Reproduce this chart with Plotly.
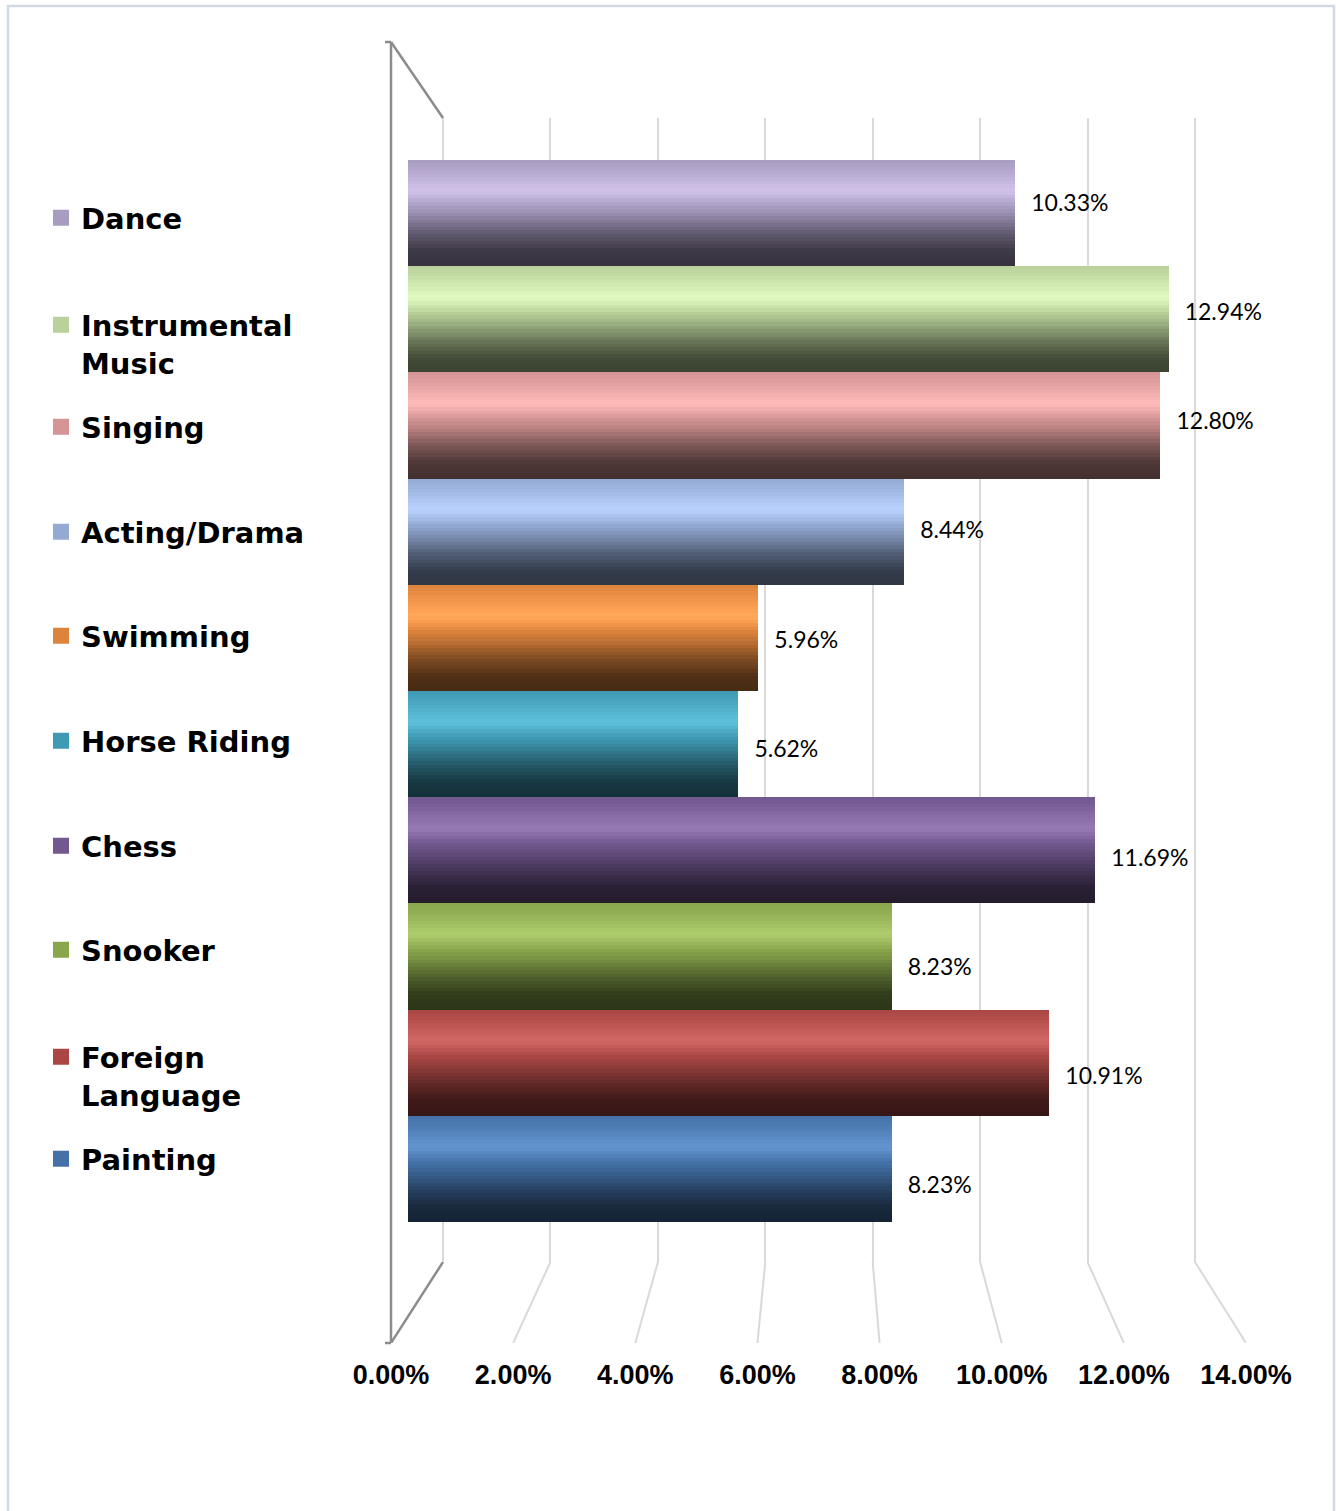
import plotly.graph_objects as go

# ---------------- data ----------------
categories = ["Dance", "Instrumental Music", "Singing", "Acting/Drama", "Swimming",
              "Horse Riding", "Chess", "Snooker", "Foreign Language", "Painting"]
legend_labels = ["Dance", "Instrumental<br>Music", "Singing", "Acting/Drama", "Swimming",
                 "Horse Riding", "Chess", "Snooker", "Foreign<br>Language", "Painting"]
values = [10.33, 12.94, 12.80, 8.44, 5.96, 5.62, 11.69, 8.23, 10.91, 8.23]
value_labels = ["10.33%", "12.94%", "12.80%", "8.44%", "5.96%",
                "5.62%", "11.69%", "8.23%", "10.91%", "8.23%"]
tick_values = [0, 2, 4, 6, 8, 10, 12, 14]
tick_labels = ["0.00%", "2.00%", "4.00%", "6.00%", "8.00%", "10.00%", "12.00%", "14.00%"]
colors = ["#a99cc1", "#b9d19b", "#d49594", "#94aad4", "#dd843c",
          "#3f9ab4", "#72588f", "#89a64c", "#aa4744", "#4472a8"]

# ---------------- layout constants (pixels) ----------------
W, H = 1336, 1511
def fx(p): return p / W
def fy(p): return 1 - p / H

BACK_L, BACK_R = 443, 1195       # back wall 0% / 14%
FRONT_L, FRONT_R = 391, 1246     # floor front edge 0% / 14%
BAR_L, BAR_R = 408, 1231         # bar plane 0% / 14%
TOP, BOTTOM, FLOOR = 118, 1262, 1343
HORIZON, LABEL_ZOOM, LABEL_SHIFT = 639, 1.027, 4  # labels sit on an enlarged front plane
XMAX = 14
LEG_X = 41
LEGEND_Y = [218, 344, 427, 532, 636, 741, 846, 950, 1076, 1159]

# cylinder shading profile (t from top=0 to bottom=1, brightness factor)
PROFILE = [(0.0, 1.0), (0.08, 1.04), (0.30, 1.2), (0.50, 0.92), (0.70, 0.58),
           (0.86, 0.37), (1.0, 0.32)]
NSTRIP = 30


def factor(t):
    for (t0, f0), (t1, f1) in zip(PROFILE[:-1], PROFILE[1:]):
        if t0 <= t <= t1:
            return f0 + (f1 - f0) * (t - t0) / (t1 - t0)
    return PROFILE[-1][1]


def shade(hexc, f):
    r, g, b = (int(hexc[i:i + 2], 16) for i in (1, 3, 5))
    if f > 1:
        k = (f - 1) * 1.6
        r, g, b = (min(255, c * f) for c in (r, g, b))
        r, g, b = (min(255, c + (255 - c) * k * 0.35) for c in (r, g, b))
    else:
        r, g, b = (c * f for c in (r, g, b))
    return "rgb(%d,%d,%d)" % (min(255, r), min(255, g), min(255, b))


fig = go.Figure()

# dummy trace so the back-wall grid subplot exists
fig.add_trace(go.Scatter(x=[None], y=[None], xaxis="x", yaxis="y",
                         showlegend=False, hoverinfo="skip"))

# cylinder-like bars, drawn as horizontal shading strips
for k in range(NSTRIP):
    t = (k + 0.5) / NSTRIP
    w = 1.0 / NSTRIP + (0 if k == 0 else 0.004)
    fig.add_trace(go.Bar(
        x=values, y=categories, orientation="h",
        xaxis="x2", yaxis="y2",
        offset=0.5 - (k + 1) / NSTRIP, width=w,
        marker=dict(color=[shade(c, factor(t)) for c in colors], line=dict(width=0)),
        showlegend=False, hoverinfo="skip" if k else "x+y",
    ))

# data labels (own subplot, slightly enlarged vertically like the 3D front plane)
fig.add_trace(go.Scatter(
    x=values, y=categories, xaxis="x4", yaxis="y4",
    mode="markers+text", text=value_labels, textposition="middle right",
    marker=dict(size=24, opacity=0), showlegend=False, hoverinfo="skip",
    cliponaxis=False,
    textfont=dict(family="Lato", size=23, color="black"),
))

# floor perspective lines (from back wall grid to the front edge)
scale_front = (FRONT_R - FRONT_L) / XMAX
scale_back = (BACK_R - BACK_L) / XMAX
def back_in_front_units(v):
    return (BACK_L + v * scale_back - FRONT_L) / scale_front

lx, ly = [], []
for v in tick_values[1:]:
    lx += [v, back_in_front_units(v), None]
    ly += [0, 1, None]
fig.add_trace(go.Scatter(x=lx, y=ly, xaxis="x3", yaxis="y3", mode="lines",
                         line=dict(color="#d9d9d9", width=2), cliponaxis=False,
                         showlegend=False, hoverinfo="skip"))
fig.add_trace(go.Scatter(x=[tick_values[0], back_in_front_units(tick_values[0])], y=[0, 1],
                         xaxis="x3", yaxis="y3", mode="lines", cliponaxis=False,
                         line=dict(color="#8c8c8c", width=2.5),
                         showlegend=False, hoverinfo="skip"))

# legend entries, each in its own legend box
legend_layouts = {}
for i, (lab, col) in enumerate(zip(legend_labels, colors)):
    key = "legend" if i == 0 else "legend%d" % (i + 1)
    fig.add_trace(go.Scatter(x=[None], y=[None], xaxis="x2", yaxis="y2", mode="markers",
                             name=lab, legend=key,
                             marker=dict(symbol="square", size=19, color=col)))
    legend_layouts[key] = dict(
        x=fx(LEG_X), xanchor="left", y=fy(LEGEND_Y[i]), yanchor="middle",
        font=dict(family="DejaVu Sans", size=29, color="black", weight="bold"),
        bgcolor="rgba(0,0,0,0)", borderwidth=0, itemsizing="trace", valign="top",
    )

wall = "#8c8c8c"
shapes = [
    dict(type="line", xref="paper", yref="paper", x0=fx(FRONT_L), x1=fx(FRONT_L),
         y0=fy(42), y1=fy(FLOOR), line=dict(color=wall, width=2.5)),
    dict(type="line", xref="paper", yref="paper", x0=fx(FRONT_L), x1=fx(BACK_L),
         y0=fy(42), y1=fy(TOP), line=dict(color=wall, width=2.5)),
    dict(type="line", xref="paper", yref="paper", x0=fx(385), x1=fx(FRONT_L),
         y0=fy(42), y1=fy(42), line=dict(color=wall, width=2.5)),
    dict(type="line", xref="paper", yref="paper", x0=fx(385), x1=fx(FRONT_L),
         y0=fy(FLOOR), y1=fy(FLOOR), line=dict(color=wall, width=2.5)),
    dict(type="rect", xref="paper", yref="paper", x0=fx(8), x1=fx(1334),
         y0=fy(H + 4), y1=fy(6), line=dict(color="#d3d9e4", width=2.5)),
]

# back wall axis widened by 2 px so the 0% and 14% grid lines are drawn
pad = 2 / scale_back
ncat = len(categories)
yrange = [-0.877, ncat - 1 + 0.895]
lab_top = HORIZON - (HORIZON - TOP) * LABEL_ZOOM + LABEL_SHIFT
lab_bot = HORIZON + (BOTTOM - HORIZON) * LABEL_ZOOM + LABEL_SHIFT

fig.update_layout(
    width=W, height=H, margin=dict(l=0, r=0, t=0, b=0, autoexpand=False),
    paper_bgcolor="white", plot_bgcolor="rgba(0,0,0,0)",
    barmode="overlay", bargap=0,
    shapes=shapes,
    xaxis=dict(domain=[fx(BACK_L - 2), fx(BACK_R + 2)], range=[-pad, XMAX + pad], anchor="y",
               tickvals=tick_values, showticklabels=False, ticks="",
               showgrid=True, gridcolor="#d9d9d9", gridwidth=2,
               zeroline=False, showline=False, fixedrange=True),
    yaxis=dict(domain=[fy(BOTTOM), fy(TOP)], range=[0, 1], anchor="x",
               visible=False, fixedrange=True),
    xaxis2=dict(domain=[fx(BAR_L), fx(BAR_R)], range=[0, XMAX], anchor="y2",
                visible=False, fixedrange=True),
    yaxis2=dict(domain=[fy(BOTTOM), fy(TOP)], anchor="x2", type="category",
                categoryorder="array", categoryarray=categories[::-1],
                range=yrange, visible=False, fixedrange=True),
    xaxis3=dict(domain=[fx(FRONT_L), fx(FRONT_R)], range=[0, XMAX], anchor="y3",
                tickvals=tick_values, ticktext=tick_labels, ticks="",
                showgrid=False, zeroline=False, showline=False,
                ticklabelstandoff=13,
                tickfont=dict(family="Liberation Sans", size=27, color="black",
                              weight="bold"),
                fixedrange=True),
    yaxis3=dict(domain=[fy(FLOOR), fy(BOTTOM)], range=[0, 1], anchor="x3",
                visible=False, fixedrange=True),
    xaxis4=dict(domain=[fx(BAR_L), fx(BAR_R)], range=[0, XMAX], anchor="y4",
                visible=False, fixedrange=True),
    yaxis4=dict(domain=[fy(lab_bot), fy(lab_top)], anchor="x4", type="category",
                categoryorder="array", categoryarray=categories[::-1],
                range=yrange, visible=False, fixedrange=True),
    **legend_layouts,
)

fig.write_html("out.html", config={"displayModeBar": False},
               post_script="document.body.style.margin='0';")
